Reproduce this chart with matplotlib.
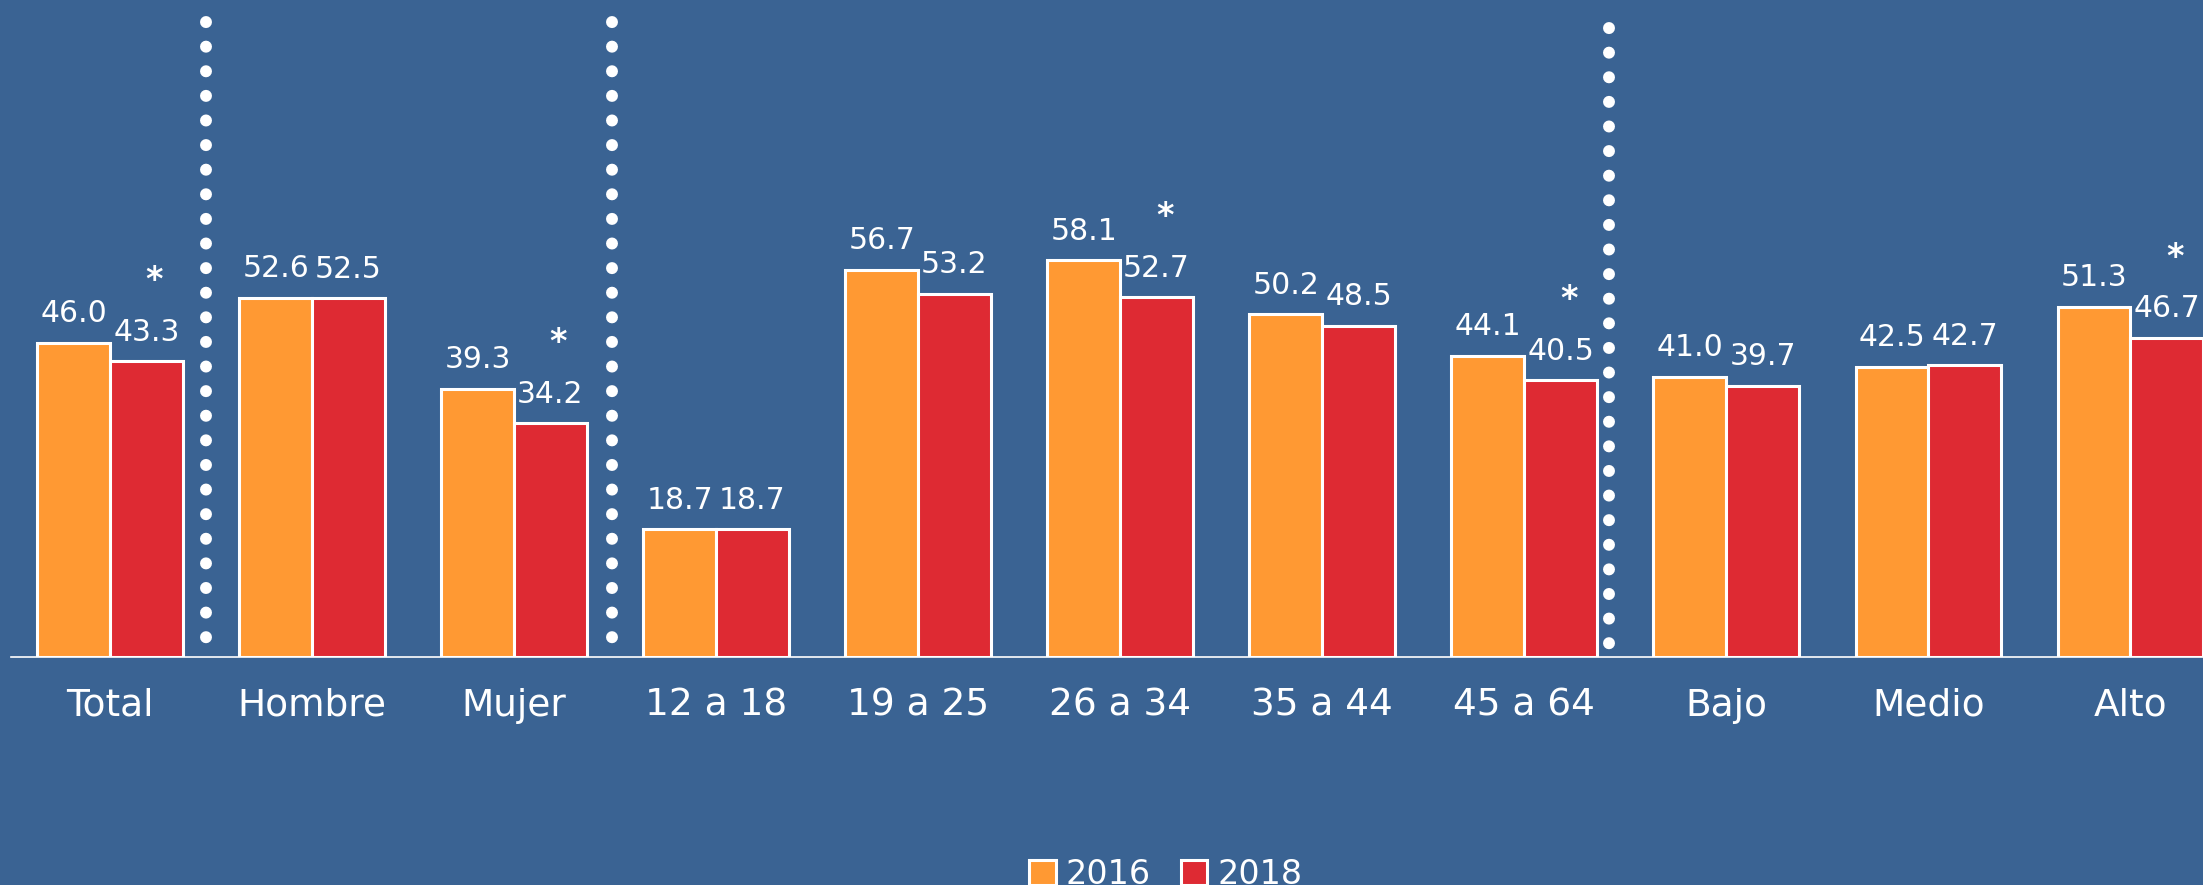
import matplotlib
matplotlib.use("Agg")
import matplotlib.pyplot as plt
import numpy as np

categorias = ['Total', 'Hombre', 'Mujer', '12 a 18', '19 a 25', '26 a 34',
              '35 a 44', '45 a 64', 'Bajo', 'Medio', 'Alto']
valores_2016 = [46.0, 52.6, 39.3, 18.7, 56.7, 58.1, 50.2, 44.1, 41.0, 42.5, 51.3]
valores_2018 = [43.3, 52.5, 34.2, 18.7, 53.2, 52.7, 48.5, 40.5, 39.7, 42.7, 46.7]
significativo = [True, False, True, False, False, True, False, True, False, False, True]

fondo = '#3A6393'
naranja = '#FF9933'
rojo = '#DE2A33'

plt.rcParams['font.family'] = ['DejaVu Sans']

fig = plt.figure(figsize=(22.03, 8.85), dpi=100, facecolor=fondo)
ax = fig.add_axes([11 / 2203, (885 - 657) / 885, 1 - 11 / 2203, 657 / 885])
ax.set_facecolor(fondo)

x = np.arange(len(categorias))
ancho = 0.36
b1 = ax.bar(x - ancho / 2, valores_2016, ancho, color=naranja, edgecolor='white',
            linewidth=2.2, label='2016', zorder=3)
b2 = ax.bar(x + ancho / 2, valores_2018, ancho, color=rojo, edgecolor='white',
            linewidth=2.2, label='2018', zorder=3)

for barras, vals in ((b1, valores_2016), (b2, valores_2018)):
    for b, v in zip(barras, vals):
        ax.annotate(f'{v:.1f}', (b.get_x() + b.get_width() / 2, v),
                    xytext=(0, 10.5), textcoords='offset points',
                    ha='center', va='bottom', color='white', fontsize=21.5)

for b, v, s in zip(b2, valores_2018, significativo):
    if s:
        ax.annotate('*', (b.get_x() + b.get_width() / 2 + 0.04, v),
                    xytext=(0, 58), textcoords='offset points',
                    ha='center', va='center', color='white', fontsize=24,
                    fontweight='bold')

# separadores punteados (dibujados de arriba hacia abajo)
for xs, y_top, y_bot in ((0.475, 93.0, 1.0), (2.485, 93.0, 1.0), (7.42, 92.1, 0.3)):
    ax.plot([xs, xs], [y_top, y_bot], color='white', linewidth=8.6,
            linestyle=(0, (0.01, 2.05)), dash_capstyle='round',
            solid_capstyle='round', zorder=4)

ax.set_xlim(-0.49, 10.36)
ax.set_ylim(0, 96.2)
ax.set_xticks(x)
ax.set_xticklabels(categorias, color='white', fontsize=27)
ax.tick_params(axis='x', length=0, pad=22)
ax.set_yticks([])
for lado in ('top', 'right', 'left'):
    ax.spines[lado].set_visible(False)
ax.spines['bottom'].set_color('white')
ax.spines['bottom'].set_linewidth(1.2)

leg = fig.legend(handles=[b1, b2], labels=['2016', '2018'], loc='upper left',
                 bbox_to_anchor=(1029 / 2203, 1 - 858 / 885), ncol=2, frameon=False,
                 fontsize=24, handlelength=0.8, handleheight=0.8,
                 handletextpad=0.3, columnspacing=0.9, borderpad=0,
                 borderaxespad=0)
for t in leg.get_texts():
    t.set_color('white')

fig.savefig('out.png', dpi=100, facecolor=fondo)
